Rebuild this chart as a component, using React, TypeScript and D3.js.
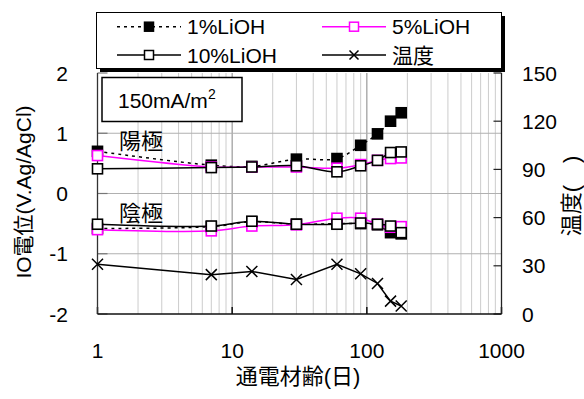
import React, { useEffect, useRef } from 'react';
import * as d3 from 'd3';

// days of energizing (log axis)
const days = [1, 7, 14, 30, 60, 90, 120, 150, 180];

// anode potentials (V vs Ag/AgCl)
const anode1 = [0.7, 0.47, 0.45, 0.57, 0.58, 0.8, 0.99, 1.2, 1.34];
const anode5 = [0.63, 0.44, 0.44, 0.44, 0.42, 0.48, 0.55, 0.58, 0.59];
const anode10 = [0.41, 0.43, 0.44, 0.46, 0.36, 0.46, 0.55, 0.68, 0.69];

// cathode potentials
const cathode1 = [-0.58, -0.55, -0.47, -0.51, -0.5, -0.5, -0.52, -0.65, -0.67];
const cathode5 = [-0.6, -0.62, -0.54, -0.52, -0.41, -0.41, -0.51, -0.56, -0.55];
const cathode10 = [-0.51, -0.54, -0.46, -0.51, -0.51, -0.49, -0.51, -0.54, -0.65];

// temperature
const temperature = [31, 24.5, 26.5, 21.5, 31, 25, 19, 8, 5];

const xTicks = [1, 10, 100, 1000];
const yLeftTicks = [-2, -1, 0, 1, 2];
const yRightTicks = [0, 30, 60, 90, 120, 150];

const FONT = '"Liberation Sans", Arial, "Noto Sans CJK JP", sans-serif';

const App = () => {
  const ref = useRef(null);

  useEffect(() => {
    const svg = d3.select(ref.current);
    svg.selectAll('*').remove();

    const left = 97.5, right = 501.5, top = 73, bottom = 314;

    const x = d3.scaleLog().domain([1, 1000]).range([left, right]);
    const yL = d3.scaleLinear().domain([-2, 2]).range([bottom, top]);
    const yR = d3.scaleLinear().domain([0, 150]).range([bottom, top]);

    svg.append('rect').attr('width', 584).attr('height', 399).attr('fill', 'white');

    // vertical grid (minor then major)
    const minor = [];
    for (let dec = 1; dec < 1000; dec *= 10) {
      for (let k = 2; k <= 9; k++) minor.push(dec * k);
    }
    svg.append('g').selectAll('line')
      .data(minor)
      .join('line')
      .attr('x1', d => x(d)).attr('x2', d => x(d))
      .attr('y1', top).attr('y2', bottom)
      .attr('stroke', '#cccccc').attr('stroke-width', 1);

    svg.append('g').selectAll('line')
      .data([10, 100])
      .join('line')
      .attr('x1', d => x(d)).attr('x2', d => x(d))
      .attr('y1', top).attr('y2', bottom)
      .attr('stroke', '#9a9a9a').attr('stroke-width', 1.2);

    // horizontal grid
    svg.append('g').selectAll('line')
      .data([-1, 0, 1])
      .join('line')
      .attr('x1', left).attr('x2', right)
      .attr('y1', d => yL(d)).attr('y2', d => yL(d))
      .attr('stroke', '#b0b0b0').attr('stroke-width', 1.2);

    // left axis ticks (inward)
    svg.append('g').selectAll('line')
      .data(yLeftTicks)
      .join('line')
      .attr('x1', left).attr('x2', left + 10)
      .attr('y1', d => yL(d)).attr('y2', d => yL(d))
      .attr('stroke', '#777').attr('stroke-width', 1.2);

    // right axis ticks (inward)
    svg.append('g').selectAll('line')
      .data(yRightTicks)
      .join('line')
      .attr('x1', right - 8).attr('x2', right)
      .attr('y1', d => yR(d)).attr('y2', d => yR(d))
      .attr('stroke', '#222').attr('stroke-width', 1.2);

    // bottom axis ticks (inward)
    svg.append('g').selectAll('line')
      .data(xTicks)
      .join('line')
      .attr('x1', d => x(d)).attr('x2', d => x(d))
      .attr('y1', bottom - 7).attr('y2', bottom)
      .attr('stroke', '#111').attr('stroke-width', 1.5);

    // axis lines
    svg.append('line').attr('x1', left).attr('x2', left).attr('y1', top).attr('y2', bottom)
      .attr('stroke', '#333').attr('stroke-width', 1.3);
    svg.append('line').attr('x1', right).attr('x2', right).attr('y1', top).attr('y2', bottom)
      .attr('stroke', '#222').attr('stroke-width', 1.3);
    svg.append('line').attr('x1', left).attr('x2', right).attr('y1', bottom).attr('y2', bottom)
      .attr('stroke', '#111').attr('stroke-width', 1.5);

    const lineL = d3.line().x(d => x(d[0])).y(d => yL(d[1])).curve(d3.curveCatmullRom.alpha(0.5));
    const lineR = d3.line().x(d => x(d[0])).y(d => yR(d[1]));

    const zip = vals => days.map((d, i) => [d, vals[i]]);

    const drawSeries = (vals, color, dash, marker) => {
      const pts = zip(vals);
      svg.append('path')
        .attr('d', lineL(pts))
        .attr('fill', 'none')
        .attr('stroke', color)
        .attr('stroke-width', 1.5)
        .attr('stroke-dasharray', dash);
      const s = 10;
      svg.append('g').selectAll('rect')
        .data(pts)
        .join('rect')
        .attr('x', d => x(d[0]) - s / 2)
        .attr('y', d => yL(d[1]) - s / 2)
        .attr('width', s).attr('height', s)
        .attr('fill', marker === 'filled' ? '#000' : '#fff')
        .attr('stroke', color)
        .attr('stroke-width', 1.6);
    };

    // 1% (dotted, filled squares), 5% (magenta), 10% (black open)
    drawSeries(anode1, '#000', '3,4', 'filled');
    drawSeries(cathode1, '#000', '3,4', 'filled');
    drawSeries(anode5, '#ff00ff', null, 'open');
    drawSeries(cathode5, '#ff00ff', null, 'open');
    drawSeries(anode10, '#000', null, 'open');
    drawSeries(cathode10, '#000', null, 'open');

    // temperature
    const tPts = zip(temperature);
    svg.append('path')
      .attr('d', lineR(tPts))
      .attr('fill', 'none')
      .attr('stroke', '#000')
      .attr('stroke-width', 1.5);
    const cr = 5.5;
    svg.append('g').selectAll('path')
      .data(tPts)
      .join('path')
      .attr('d', d => {
        const cx = x(d[0]), cy = yR(d[1]);
        return `M${cx - cr},${cy - cr}L${cx + cr},${cy + cr}M${cx - cr},${cy + cr}L${cx + cr},${cy - cr}`;
      })
      .attr('stroke', '#000')
      .attr('stroke-width', 1.5);

    // tick labels
    svg.append('g').selectAll('text')
      .data(yLeftTicks)
      .join('text')
      .attr('x', 68).attr('y', d => yL(d))
      .attr('dy', '0.36em')
      .attr('text-anchor', 'end')
      .style('font-family', FONT).style('font-size', '21px')
      .text(d => d < 0 ? `-${Math.abs(d)}` : d);

    svg.append('g').selectAll('text')
      .data(yRightTicks)
      .join('text')
      .attr('x', 522).attr('y', d => yR(d))
      .attr('dy', '0.36em')
      .style('font-family', FONT).style('font-size', '21px')
      .text(d => d);

    svg.append('g').selectAll('text')
      .data(xTicks)
      .join('text')
      .attr('x', d => x(d)).attr('y', 358)
      .attr('text-anchor', 'middle')
      .style('font-family', FONT).style('font-size', '21px')
      .text(d => d);

    // axis titles
    svg.append('text')
      .attr('x', 298).attr('y', 384)
      .attr('text-anchor', 'middle')
      .style('font-family', FONT).style('font-size', '22px')
      .text('通電材齢(日)');

    svg.append('text')
      .attr('transform', 'translate(31,192) rotate(-90)')
      .attr('text-anchor', 'middle')
      .style('font-family', FONT).style('font-size', '21px')
      .text('IO電位(V.Ag/AgCl)');

    svg.append('text')
      .attr('transform', 'translate(579,196) rotate(-90)')
      .attr('text-anchor', 'middle')
      .style('font-family', FONT).style('font-size', '22px')
      .text('温度(\u3000)');

    // annotations
    svg.append('text')
      .attr('x', 119).attr('y', 149)
      .style('font-family', FONT).style('font-size', '22px')
      .text('陽極');
    svg.append('text')
      .attr('x', 119).attr('y', 221)
      .style('font-family', FONT).style('font-size', '22px')
      .text('陰極');

    svg.append('rect')
      .attr('x', 102).attr('y', 77.5).attr('width', 140).attr('height', 44)
      .attr('fill', 'white').attr('stroke', '#000').attr('stroke-width', 1.5);
    const lbl = svg.append('text')
      .attr('x', 118).attr('y', 108)
      .style('font-family', FONT).style('font-size', '21px');
    lbl.append('tspan').text('150mA/m');
    lbl.append('tspan').attr('dy', -9).style('font-size', '14px').text('2');

    // legend with shadow
    svg.append('rect')
      .attr('x', 100).attr('y', 16).attr('width', 405).attr('height', 56)
      .attr('fill', '#000');
    svg.append('rect')
      .attr('x', 96.5).attr('y', 12.5).attr('width', 405).attr('height', 56)
      .attr('fill', 'white').attr('stroke', '#000').attr('stroke-width', 1);

    const legendItems = [
      { label: '1%LiOH', color: '#000', dash: '3,4', marker: 'filled', x: 117, y: 26.7 },
      { label: '5%LiOH', color: '#ff00ff', dash: null, marker: 'open', x: 322, y: 26.7 },
      { label: '10%LiOH', color: '#000', dash: null, marker: 'open', x: 117, y: 55 },
      { label: '温度', color: '#000', dash: null, marker: 'cross', x: 322, y: 55 },
    ];
    const lg = svg.append('g').selectAll('g').data(legendItems).join('g');
    lg.append('line')
      .attr('x1', d => d.x).attr('x2', d => d.x + 64)
      .attr('y1', d => d.y).attr('y2', d => d.y)
      .attr('stroke', d => d.color).attr('stroke-width', 1.5)
      .attr('stroke-dasharray', d => d.dash);
    lg.filter(d => d.marker !== 'cross').append('rect')
      .attr('x', d => d.x + 32 - 4.5).attr('y', d => d.y - 4.5)
      .attr('width', 9).attr('height', 9)
      .attr('fill', d => d.marker === 'filled' ? '#000' : '#fff')
      .attr('stroke', d => d.color).attr('stroke-width', 1.5);
    lg.filter(d => d.marker === 'cross').append('path')
      .attr('d', d => {
        const cx = d.x + 32, cy = d.y, r = 4.5;
        return `M${cx - r},${cy - r}L${cx + r},${cy + r}M${cx - r},${cy + r}L${cx + r},${cy - r}`;
      })
      .attr('stroke', '#000').attr('stroke-width', 1.5);
    lg.append('text')
      .attr('x', d => d.x + 70).attr('y', d => d.y)
      .attr('dy', '0.36em')
      .style('font-family', FONT).style('font-size', '21px')
      .text(d => d.label);
  }, []);

  return (
    <svg
      ref={ref}
      width={584}
      height={399}
      style={{ position: 'absolute', left: 0, top: 0 }}
    ></svg>
  );
};

export default App;
